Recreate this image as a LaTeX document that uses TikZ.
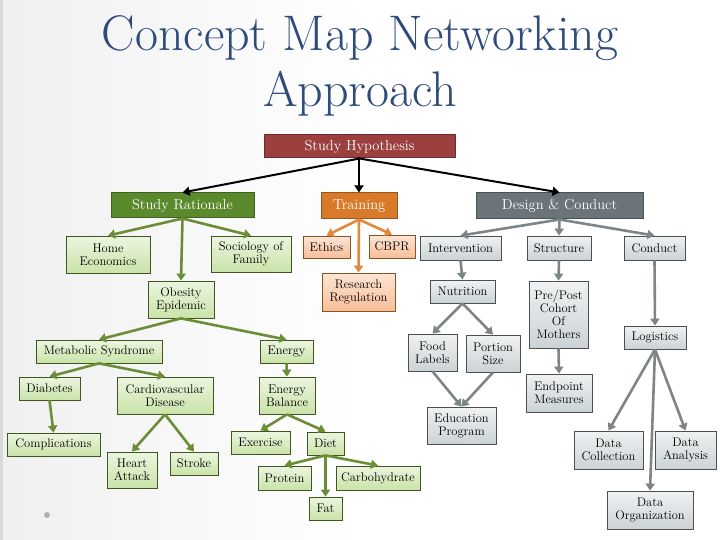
\documentclass[tikz,border=0pt]{standalone}
\usetikzlibrary{arrows.meta}
\definecolor{ttl}{HTML}{2F4B7C}
\definecolor{hyp}{HTML}{9B3F3F}
\definecolor{grD}{HTML}{5B8A2D}
\definecolor{orD}{HTML}{D9792A}
\definecolor{gyD}{HTML}{6B7479}
\definecolor{grL}{HTML}{C9E3A8}
\definecolor{orL}{HTML}{F8BE98}
\definecolor{gyL}{HTML}{CCD2D5}
\definecolor{grA}{HTML}{6A8E35}
\definecolor{orA}{HTML}{E08A3C}
\definecolor{gyA}{HTML}{7D8589}
\tikzset{
 bx/.style={draw=#1!60!black, line width=0.8pt, inner sep=0pt, align=center, font=\fontsize{12.5}{13}\selectfont},
 gb/.style={bx=grA, top color=grL!35!white, bottom color=grL},
 ob/.style={bx=orA, top color=orL!40!white, bottom color=orL},
 yb/.style={bx=gyA, top color=gyL!30!white, bottom color=gyL},
 hb/.style={draw=#1!70!black, fill=#1, text=white, inner sep=0pt, line width=1pt, font=\fontsize{14.5}{15}\selectfont},
 ar/.style={draw=#1, line width=2.6pt, -{Triangle[width=9pt,length=7pt]}},
 ka/.style={draw=black, line width=2pt, -{Triangle[width=9pt,length=7pt]}},
}
\newcommand{\bx}[7]{\node[#6, minimum width={(#4-#2)*1pt}, minimum height={(#5-#3)*1pt}] (#1) at ({(#2+#4)/2},{(#3+#5)/2}) {#7};}
\begin{document}
\begin{tikzpicture}[x=1pt,y=-1pt]
\shade[left color=gray!12, right color=white, middle color=white] (0,0) rectangle (720,540);
\useasboundingbox (0,0) rectangle (720,540);
\fill[gray!30] (0,0) rectangle (3,540);
\node[text=ttl, font=\fontsize{50}{52}\selectfont] (t1) at (360,38) {Concept Map Networking};
\node[text=ttl, font=\fontsize{50}{52}\selectfont] (t2) at (360,94) {Approach};
\fill[gray!60] (47,515) circle (3);
\bx{hy}{264}{135}{455}{158}{hb=hyp}{Study Hypothesis}
\bx{sr}{111}{193}{254}{218}{hb=grD}{Study Rationale}
\bx{tr}{321}{193}{397}{219}{hb=orD}{Training}
\bx{dc}{476}{193}{643}{219}{hb=gyD}{Design \& Conduct}
\bx{he}{66}{236}{150}{273}{gb}{Home\\Economics}
\bx{sf}{211}{236}{291}{272}{gb}{Sociology of\\Family}
\bx{ob}{148}{281}{214}{318}{gb}{Obesity\\Epidemic}
\bx{ms}{36}{340}{162}{363}{gb}{Metabolic Syndrome}
\bx{di}{19}{377}{80}{400}{gb}{Diabetes}
\bx{cd}{117}{377}{213}{414}{gb}{Cardiovascular\\Disease}
\bx{co}{7}{433}{100}{456}{gb}{Complications}
\bx{ha}{107}{452}{157}{488}{gb}{Heart\\Attack}
\bx{st}{170}{452}{218}{475}{gb}{Stroke}
\bx{en}{260}{340}{313}{363}{gb}{Energy}
\bx{eb}{259}{377}{315}{414}{gb}{Energy\\Balance}
\bx{ex}{231}{431}{290}{454}{gb}{Exercise}
\bx{dt}{307}{432}{344}{455}{gb}{Diet}
\bx{pr}{258}{466}{311}{490}{gb}{Protein}
\bx{ca}{336}{466}{420}{490}{gb}{Carbohydrate}
\bx{fa}{309}{497}{342}{520}{gb}{Fat}
\bx{et}{303}{236}{350}{258}{ob}{Ethics}
\bx{cb}{369}{235}{415}{258}{ob}{CBPR}
\bx{rr}{322}{273}{395}{311}{ob}{Research\\Regulation}
\bx{in}{420}{236}{501}{260}{yb}{Intervention}
\bx{su}{527}{236}{591}{260}{yb}{Structure}
\bx{cn}{624}{236}{685}{260}{yb}{Conduct}
\bx{nu}{430}{280}{495}{303}{yb}{Nutrition}
\bx{fl}{408}{334}{457}{371}{yb}{Food\\Labels}
\bx{ps}{466}{335}{520}{372}{yb}{Portion\\Size}
\bx{ep}{427}{407}{496}{444}{yb}{Education\\Program}
\bx{pp}{529}{281}{588}{348}{yb}{Pre/Post\\Cohort\\Of\\Mothers}
\bx{em}{526}{374}{592}{412}{yb}{Endpoint\\Measures}
\bx{lo}{624}{326}{686}{349}{yb}{Logistics}
\bx{dl}{574}{431}{643}{469}{yb}{Data\\Collection}
\bx{da}{655}{431}{716}{469}{yb}{Data\\Analysis}
\bx{dg}{607}{491}{693}{529}{yb}{Data\\Organization}
% black
\draw[ka] (hy.south) -- (sr.north);
\draw[ka] (hy.south) -| (tr.north);
\draw[ka] (hy.south) -- (dc.north);
\foreach \a/\b in {sr/he,sr/sf,sr/ob,ob/ms,ob/en,ms/di,ms/cd,di/co,cd/ha,cd/st,en/eb,eb/ex,eb/dt,dt/pr,dt/fa,dt/ca}
  \draw[ar=grA] (\a.south) -- (\b.north);
\foreach \a/\b in {tr/et,tr/cb,tr/rr}
  \draw[ar=orA] (\a.south) -- (\b.north);
\foreach \a/\b in {dc/in,dc/su,dc/cn,in/nu,nu/fl,nu/ps,fl/ep,ps/ep,su/pp,pp/em,cn/lo,lo/dl,lo/dg,lo/da}
  \draw[ar=gyA] (\a.south) -- (\b.north);
\end{tikzpicture}
\end{document}
